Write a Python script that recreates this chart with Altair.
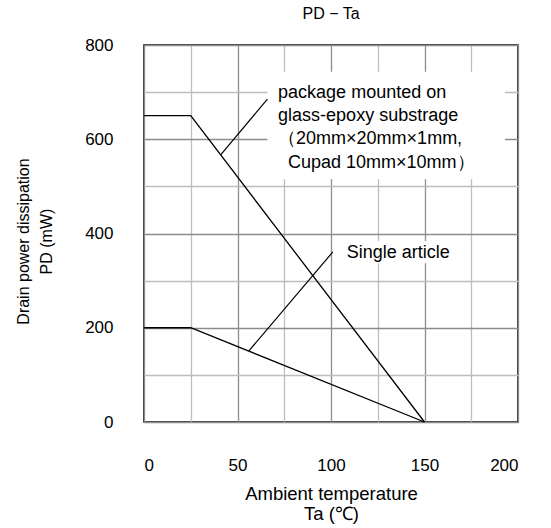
import altair as alt
import pandas as pd

# Derating curves: ambient temperature (°C) vs allowable power dissipation (mW)
ta_mounted = [0, 25, 150]
pd_mounted = [650, 650, 0]
ta_single = [0, 25, 150]
pd_single = [200, 200, 0]

# Axis ticks / grid lines (labels only on every other line)
x_grid = [0, 25, 50, 75, 100, 125, 150, 175, 200]
x_label_step = 50
y_grid = [0, 100, 200, 300, 400, 500, 600, 700, 800]
y_label_step = 200

# Annotation leader lines (start on curve -> end near label)
leader_x = [41, 56]
leader_y = [567, 150.5]
leader_x2 = [66, 101]
leader_y2 = [685, 361]

# Annotation texts
mounted_lines = ["package mounted on", "glass-epoxy substrage",
                 "（20mm×20mm×1mm,", "Cupad 10mm×10mm）"]
mounted_x = [71.7, 71.7, 71.7, 77]
mounted_y = [698, 649, 600, 550]
single_text = ["Single article"]
single_x = [108.4]
single_y = [359]

# White backgrounds behind the annotation texts
box_x = [66, 106]
box_x2 = [193, 169]
box_y = [515, 337]
box_y2 = [743, 384]

FONT = "Liberation Sans"
xs = alt.Scale(domain=[0, 200], nice=False)
ys = alt.Scale(domain=[0, 800], nice=False)


def grid_color(step):
    return {"condition": {"test": f"datum.value % {step} === 0", "value": "#8c8c8c"},
            "value": "#bdbdbd"}


x_axis = alt.Axis(values=x_grid, grid=True, gridColor=grid_color(50), gridWidth=1.3,
                  gridOpacity=1,
                  ticks=False, domain=False,
                  labelExpr=f"datum.value % {x_label_step} === 0 ? datum.label : ''",
                  labelPadding=35, labelFontSize=17, labelFont=FONT,
                  labelColor="black",
                  title=["Ambient temperature", "Ta (℃)"],
                  titleFont=FONT, titleFontSize=18.5, titleFontWeight="normal",
                  titleColor="black", titlePadding=11, titleLineHeight=20)
y_axis = alt.Axis(values=y_grid, grid=True, gridColor=grid_color(200), gridWidth=1.3,
                  gridOpacity=1,
                  ticks=False, domain=False,
                  labelExpr=f"datum.value % {y_label_step} === 0 ? datum.label : ''",
                  labelPadding=31, labelFontSize=17, labelFont=FONT,
                  labelColor="black",
                  title=["Drain power dissipation", "PD (mW)"],
                  titleFont=FONT, titleFontSize=16, titleFontWeight="normal",
                  titleColor="black", titleLineHeight=23, titleX=-113,
                  titleY=196)


def X(field="Ta"):
    return alt.X(f"{field}:Q", scale=xs, axis=x_axis)


def Y(field="PD"):
    return alt.Y(f"{field}:Q", scale=ys, axis=y_axis)


curves = pd.DataFrame({
    "Ta": ta_mounted + ta_single,
    "PD": pd_mounted + pd_single,
    "series": ["mounted"] * 3 + ["single"] * 3,
})

boxes = alt.Chart(pd.DataFrame({"Ta": box_x, "Ta2": box_x2,
                                "PD": box_y, "PD2": box_y2})).mark_rect(
    color="white").encode(x=X(), x2="Ta2:Q", y=Y(), y2="PD2:Q")

lines = alt.Chart(curves).mark_line(color="black", strokeWidth=1.3).encode(
    x=X(), y=Y(), detail="series:N")

leaders = alt.Chart(pd.DataFrame({"Ta": leader_x, "PD": leader_y,
                                  "Ta2": leader_x2, "PD2": leader_y2})).mark_rule(
    color="black", strokeWidth=1.2).encode(x=X(), x2="Ta2:Q", y=Y(), y2="PD2:Q")

mounted_label = alt.Chart(pd.DataFrame({"t": mounted_lines, "Ta": mounted_x,
                                        "PD": mounted_y})).mark_text(
    align="left", baseline="middle", font=FONT, fontSize=18, color="black").encode(
    x=X(), y=Y(), text="t:N")

single_label = alt.Chart(pd.DataFrame({"t": single_text, "Ta": single_x,
                                       "PD": single_y})).mark_text(
    align="left", baseline="middle", font=FONT, fontSize=18, color="black").encode(
    x=X(), y=Y(), text="t:N")

chart = alt.layer(
    boxes, lines, leaders, mounted_label, single_label,
).properties(
    width=374, height=377,
    background="white",
    title=alt.TitleParams("PD − Ta", font=FONT, fontSize=16, fontWeight="normal",
                          color="black", anchor="middle", offset=14),
    autosize=alt.AutoSizeParams(type="none"),
    padding={"left": 144, "top": 45, "right": 33, "bottom": 106},
).configure_view(
    stroke="black", strokeWidth=1.5
)

chart.save("out.html", embed_options={"renderer": "svg", "actions": False})
